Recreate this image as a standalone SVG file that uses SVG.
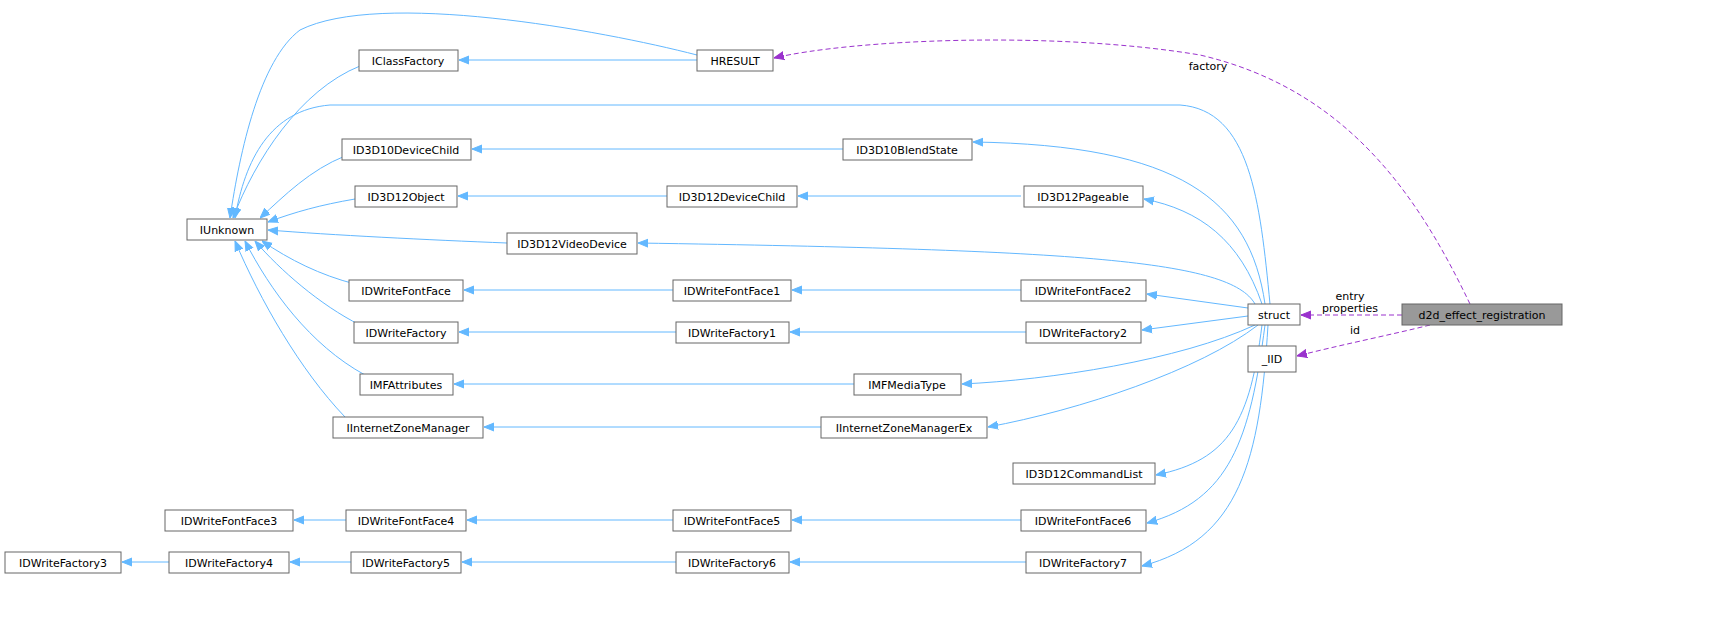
<svg xmlns="http://www.w3.org/2000/svg" width="1721" height="638" viewBox="0 0 1721 638">
<defs>
<style>
.n rect{fill:#fff;stroke:#666;stroke-width:1}
.n text{font-family:"DejaVu Sans",sans-serif;font-size:11px;fill:#000;text-anchor:middle}
.e{fill:none;stroke:#63b8ff;stroke-width:1}
.d{fill:none;stroke:#9a32cd;stroke-width:1;stroke-dasharray:5,3}
.l{font-family:"DejaVu Sans",sans-serif;font-size:11px;fill:#000;text-anchor:middle}
</style>
<marker id="a" viewBox="0 0 10 10" refX="10" refY="5" markerWidth="10" markerHeight="10" markerUnits="userSpaceOnUse" orient="auto"><path d="M0,1L10,5L0,9z" fill="#63b8ff" stroke="#63b8ff"/></marker>
<marker id="p" viewBox="0 0 10 10" refX="10" refY="5" markerWidth="10" markerHeight="10" markerUnits="userSpaceOnUse" orient="auto"><path d="M0,1L10,5L0,9z" fill="#9a32cd" stroke="#9a32cd"/></marker>
</defs>
<rect width="1721" height="638" fill="#fff"/>
<g id="edges">
<path class="e" marker-end="url(#a)" d="M697,60H459"/>
<path class="e" marker-end="url(#a)" d="M697,55C600,30 380,-10 300,30C260,60 240,150 230,218"/>
<path class="e" marker-end="url(#a)" d="M360,66C300,90 255,160 233,218"/>
<path class="e" marker-end="url(#a)" d="M843,149H472"/>
<path class="e" marker-end="url(#a)" d="M345,156C310,170 285,195 260,218"/>
<path class="e" marker-end="url(#a)" d="M667,196H458"/>
<path class="e" marker-end="url(#a)" d="M355,199C320,205 295,212 268,222"/>
<path class="e" marker-end="url(#a)" d="M507,243C430,240 330,235 268,230"/>
<path class="e" marker-end="url(#a)" d="M673,290H464"/>
<path class="e" marker-end="url(#a)" d="M355,284C320,275 290,260 262,241"/>
<path class="e" marker-end="url(#a)" d="M676,332H459"/>
<path class="e" marker-end="url(#a)" d="M360,325C320,305 280,270 255,241"/>
<path class="e" marker-end="url(#a)" d="M854,384H454"/>
<path class="e" marker-end="url(#a)" d="M365,375C310,345 270,290 245,241"/>
<path class="e" marker-end="url(#a)" d="M821,427H484"/>
<path class="e" marker-end="url(#a)" d="M345,417C300,370 260,300 235,241"/>
<path class="e" marker-end="url(#a)" d="M1021,196H798"/>
<path class="e" marker-end="url(#a)" d="M1021,290H792"/>
<path class="e" marker-end="url(#a)" d="M1026,332H790"/>
<path class="e" marker-end="url(#a)" d="M346,520H294"/>
<path class="e" marker-end="url(#a)" d="M673,520H467"/>
<path class="e" marker-end="url(#a)" d="M1021,520H792"/>
<path class="e" marker-end="url(#a)" d="M169,562H122"/>
<path class="e" marker-end="url(#a)" d="M351,562H290"/>
<path class="e" marker-end="url(#a)" d="M676,562H462"/>
<path class="e" marker-end="url(#a)" d="M1026,562H790"/>
<path class="e" marker-end="url(#a)" d="M1270,304C1260,200 1250,110 1180,105H330C270,110 245,160 235,218"/>
<path class="e" marker-end="url(#a)" d="M1265,304C1250,200 1180,145 973,142"/>
<path class="e" marker-end="url(#a)" d="M1262,304C1240,240 1200,210 1144,199"/>
<path class="e" marker-end="url(#a)" d="M1255,304C1230,260 1080,250 638,243"/>
<path class="e" marker-end="url(#a)" d="M1248,308L1147,294"/>
<path class="e" marker-end="url(#a)" d="M1248,316L1142,330"/>
<path class="e" marker-end="url(#a)" d="M1255,325C1180,360 1050,380 962,384"/>
<path class="e" marker-end="url(#a)" d="M1258,325C1200,370 1080,410 988,427"/>
<path class="e" marker-end="url(#a)" d="M1262,325C1250,420 1230,460 1156,475"/>
<path class="e" marker-end="url(#a)" d="M1265,325C1250,440 1230,500 1147,523"/>
<path class="e" marker-end="url(#a)" d="M1268,325C1260,460 1240,540 1142,566"/>
<path class="d" marker-end="url(#p)" d="M1402,315H1301"/>
<text class="l" x="1350" y="300">entry</text>
<text class="l" x="1350" y="312">properties</text>
<path class="d" marker-end="url(#p)" d="M1430,325C1390,335 1340,345 1297,356"/>
<text class="l" x="1355" y="334">id</text>
<path class="d" marker-end="url(#p)" d="M1470,304C1420,200 1350,90 1200,55C1050,30 850,40 774,58"/>
<text class="l" x="1208" y="70">factory</text>
</g>
<g id="d2d" class="n"><rect x="1402" y="304" width="160" height="21" style="fill:#999"/><text x="1482" y="319">d2d_effect_registration</text></g>
<g id="struct" class="n"><rect x="1248" y="304" width="52" height="21"/><text x="1274" y="319">struct</text></g>
<g id="iid" class="n"><rect x="1248" y="346" width="48" height="26"/><text x="1272" y="363">_IID</text></g>
<g id="hresult" class="n"><rect x="697" y="50" width="76" height="21"/><text x="735" y="65">HRESULT</text></g>
<g id="icf" class="n"><rect x="359" y="50" width="99" height="21"/><text x="408" y="65">IClassFactory</text></g>
<g id="iunknown" class="n"><rect x="187" y="219" width="80" height="21"/><text x="227" y="234">IUnknown</text></g>
<g id="d10dc" class="n"><rect x="342" y="139" width="129" height="21"/><text x="406" y="154">ID3D10DeviceChild</text></g>
<g id="d10bs" class="n"><rect x="843" y="139" width="129" height="21"/><text x="907" y="154">ID3D10BlendState</text></g>
<g id="d12o" class="n"><rect x="355" y="186" width="102" height="21"/><text x="406" y="201">ID3D12Object</text></g>
<g id="d12dc" class="n"><rect x="667" y="186" width="130" height="21"/><text x="732" y="201">ID3D12DeviceChild</text></g>
<g id="d12p" class="n"><rect x="1024" y="186" width="119" height="21"/><text x="1083" y="201">ID3D12Pageable</text></g>
<g id="d12vd" class="n"><rect x="507" y="233" width="130" height="21"/><text x="572" y="248">ID3D12VideoDevice</text></g>
<g id="ff" class="n"><rect x="349" y="280" width="114" height="21"/><text x="406" y="295">IDWriteFontFace</text></g>
<g id="ff1" class="n"><rect x="673" y="280" width="118" height="21"/><text x="732" y="295">IDWriteFontFace1</text></g>
<g id="ff2" class="n"><rect x="1021" y="280" width="125" height="21"/><text x="1083" y="295">IDWriteFontFace2</text></g>
<g id="wf" class="n"><rect x="354" y="322" width="104" height="21"/><text x="406" y="337">IDWriteFactory</text></g>
<g id="wf1" class="n"><rect x="676" y="322" width="113" height="21"/><text x="732" y="337">IDWriteFactory1</text></g>
<g id="wf2" class="n"><rect x="1026" y="322" width="115" height="21"/><text x="1083" y="337">IDWriteFactory2</text></g>
<g id="mfa" class="n"><rect x="360" y="374" width="93" height="21"/><text x="406" y="389">IMFAttributes</text></g>
<g id="mfmt" class="n"><rect x="854" y="374" width="107" height="21"/><text x="907" y="389">IMFMediaType</text></g>
<g id="izm" class="n"><rect x="333" y="417" width="150" height="21"/><text x="408" y="432">IInternetZoneManager</text></g>
<g id="izmex" class="n"><rect x="821" y="417" width="166" height="21"/><text x="904" y="432">IInternetZoneManagerEx</text></g>
<g id="d12cl" class="n"><rect x="1013" y="463" width="142" height="21"/><text x="1084" y="478">ID3D12CommandList</text></g>
<g id="ff3" class="n"><rect x="165" y="510" width="128" height="21"/><text x="229" y="525">IDWriteFontFace3</text></g>
<g id="ff4" class="n"><rect x="346" y="510" width="120" height="21"/><text x="406" y="525">IDWriteFontFace4</text></g>
<g id="ff5" class="n"><rect x="673" y="510" width="118" height="21"/><text x="732" y="525">IDWriteFontFace5</text></g>
<g id="ff6" class="n"><rect x="1021" y="510" width="125" height="21"/><text x="1083" y="525">IDWriteFontFace6</text></g>
<g id="wf3" class="n"><rect x="5" y="552" width="116" height="21"/><text x="63" y="567">IDWriteFactory3</text></g>
<g id="wf4" class="n"><rect x="169" y="552" width="120" height="21"/><text x="229" y="567">IDWriteFactory4</text></g>
<g id="wf5" class="n"><rect x="351" y="552" width="110" height="21"/><text x="406" y="567">IDWriteFactory5</text></g>
<g id="wf6" class="n"><rect x="676" y="552" width="113" height="21"/><text x="732" y="567">IDWriteFactory6</text></g>
<g id="wf7" class="n"><rect x="1026" y="552" width="115" height="21"/><text x="1083" y="567">IDWriteFactory7</text></g>
</svg>
